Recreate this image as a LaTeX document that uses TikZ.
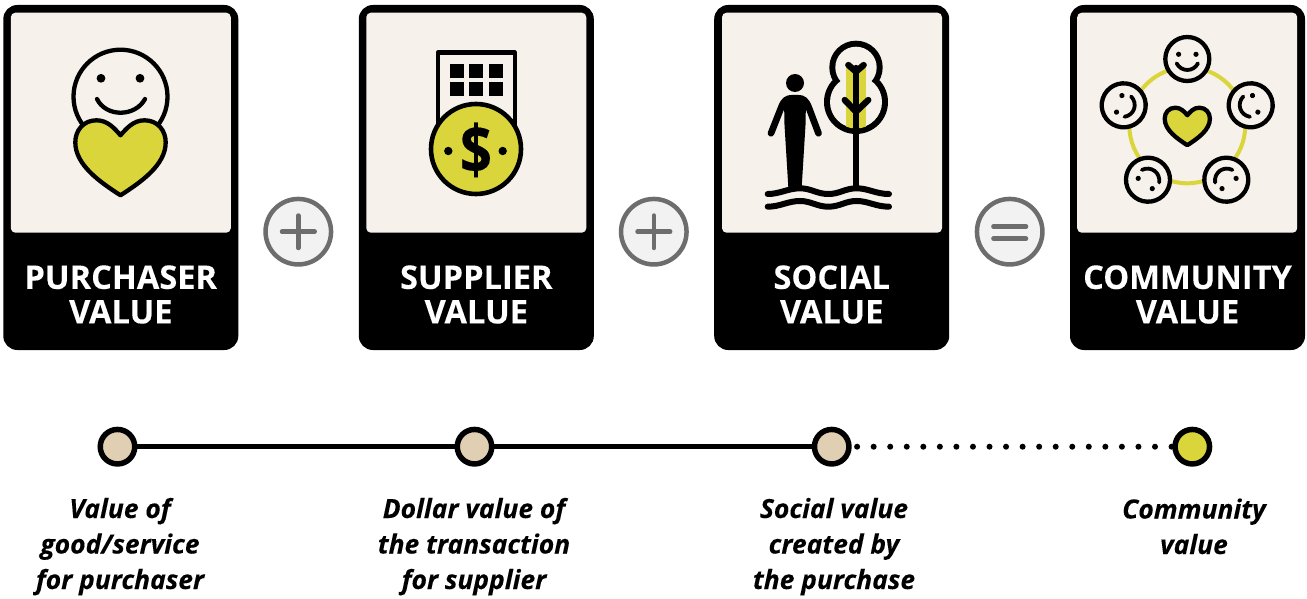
\documentclass[tikz,border=0pt]{standalone}
\usepackage{graphicx}
\usepackage{fontspec}
\newfontfamily\lblfont{Open Sans}[BoldFont={Open Sans Bold},BoldItalicFont={Open Sans Bold Italic},BoldFeatures={FakeBold=0.15},BoldItalicFeatures={FakeBold=0.1}]
\definecolor{panel}{HTML}{F6F1EB}
\definecolor{lime}{HTML}{DAD53A}
\definecolor{beige}{HTML}{E0CFB2}
\definecolor{opgrey}{HTML}{6D6D6D}
\definecolor{opfill}{HTML}{F2F2F2}
\tikzset{
  cardbox/.style={fill=black,rounded corners=14pt,minimum width=235pt,minimum height=345pt,inner sep=0pt,outer sep=0pt},
  panelbox/.style={fill=panel,rounded corners=4.5pt,minimum width=220pt,minimum height=220pt,inner sep=0pt,outer sep=0pt},
  cardlabel/.style={text=white,align=center,font=\lblfont\bfseries\fontsize{32.6}{34.5}\selectfont,inner sep=0pt},
  caption/.style={text=black,align=center,font=\lblfont\bfseries\itshape\fontsize{26.4}{35.5}\selectfont,inner sep=0pt},
  opcircle/.style={circle,draw=opgrey,fill=opfill,line width=4.5pt,minimum size=65.5pt,inner sep=0pt,outer sep=0pt},
  opbar/.style={draw=opgrey,line width=4.5pt,line cap=round},
  tldot/.style={circle,draw=black,line width=5.5pt,minimum size=34.5pt,inner sep=0pt,outer sep=0pt},
  tlline/.style={draw=black,line width=5.3pt},
  tldots/.style={draw=black,line width=6pt,line cap=round,dash pattern=on 0pt off 16.55pt,dash phase=8.4pt},
  ink/.style={draw=black,line width=4.3pt,line cap=round,line join=round},
}
\newcommand{\heartshape}[3]{%
  \begin{scope}[shift={(#1,#2)},scale=#3]
    \path[ink,fill=lime] (0,15) .. controls (-6,8) and (-13,0) .. (-24,0)
      .. controls (-37,0) and (-45.2,10) .. (-45.2,22)
      .. controls (-45.2,45) and (-20,62) .. (0,75)
      .. controls (20,62) and (45.2,45) .. (45.2,22)
      .. controls (45.2,10) and (37,0) .. (24,0)
      .. controls (13,0) and (6,8) .. (0,15) -- cycle;
  \end{scope}}
\newcommand{\smallface}[3]{%
  \begin{scope}[shift={(#1,#2)},rotate=#3]
    \path[ink,fill=panel] (0,0) circle[radius=22];
    \fill[black] (-8.7,-4.7) circle[radius=2.6] (8.7,-4.7) circle[radius=2.6];
    \draw[ink,line width=3.8pt] (-10.7,4.3) .. controls (-6,13.2) and (6,13.2) .. (10.7,4.3);
  \end{scope}}
\begin{document}
\begin{tikzpicture}[x=1pt,y=1pt,yscale=-1]
\useasboundingbox (0,0) rectangle (1307,599);
\fill[white] (0,0) rectangle (1307,599);

% cards
\node[cardbox] (card1) at (120.8,177.5) {};
\node[cardbox] (card2) at (476.3,177.5) {};
\node[cardbox] (card3) at (831.7,177.5) {};
\node[cardbox] (card4) at (1187.5,177.5) {};
\node[panelbox] (panel1) at (120.8,122.7) {};
\node[panelbox] (panel2) at (476.3,122.7) {};
\node[panelbox] (panel3) at (832,122.7) {};
\node[panelbox] (panel4) at (1187.2,122.7) {};
\node[cardlabel] (lab1) at (120.8,294.5) {PURCHASER\\VALUE};
\node[cardlabel] (lab2) at (476.3,294.5) {SUPPLIER\\VALUE};
\node[cardlabel] (lab3) at (831.7,294.5) {SOCIAL\\VALUE};
\node[cardlabel] (lab4) at (1187.5,294.5) {COMMUNITY\\VALUE};

% operators
\node[opcircle] (op1) at (298.3,231.7) {};
\node[opcircle] (op2) at (653.8,231.7) {};
\node[opcircle] (op3) at (1009.7,231.7) {};
\draw[opbar] (282,231.7) -- (314.7,231.7) (298.3,215.5) -- (298.3,248);
\draw[opbar] (637.5,231.7) -- (670.2,231.7) (653.8,215.5) -- (653.8,248);
\draw[opbar] (993.4,226.5) -- (1026,226.5) (993.4,238.7) -- (1026,238.7);

% icon 1: face and heart
\path[ink,fill=panel] (120.5,96.7) circle[radius=47];
\fill[black] (101,78.3) circle[radius=4.4] (140,78.3) circle[radius=4.4];
\draw[ink] (97,99) .. controls (106,117.3) and (135,117.3) .. (145,99);
\heartshape{120.5}{120.3}{1}

% icon 2: building and coin
\path[ink,fill=panel] (438,125) -- (438,52.5) -- (514.7,52.5) -- (514.7,125);
\foreach \wx in {450,469,489}{\foreach \wy in {64,82}{\fill[black] (\wx,\wy) rectangle ++(14,14);}}
\path[ink,line width=4.6pt,fill=lime] (476,149) circle[radius=45];
\fill[black] (448.3,151) circle[radius=4.2] (502.7,151) circle[radius=4.2];
\node[inner sep=0pt,font=\lblfont\bfseries\fontsize{56}{56}\selectfont] (dollar) at (476,150) {\scalebox{1}[1.2]{\$}};

% icon 3: person
\fill[black] (795,83) circle[radius=9];
\fill[black] (784,100) -- (806,100) -- (805.5,125) -- (801.7,187) -- (788.3,187) -- (784.5,125) -- cycle;
\draw[black,line width=6.7pt,line cap=round,line join=round]
  (771,133.3) -- (781,108) .. controls (784,100) and (787,98.3) .. (792,98.3) -- (798,98.3)
  .. controls (803,98.3) and (806,100) .. (809,108) -- (818.5,133.3);
% icon 3: tree
\fill[black] (856,67.4) circle[radius=26.7] (856,102) circle[radius=32];
\fill[panel] (856,67.4) circle[radius=20.7] (856,102) circle[radius=26];
\fill[lime] (846,68.3) rectangle (866,100);
\begin{scope}
  \clip (856,102) circle[radius=26.5];
  \fill[lime] (846,100) rectangle (866,135);
\end{scope}
\draw[black,line width=6.3pt,line cap=round] (856,68) -- (856,187);
\draw[black,line width=6.3pt,line cap=round,line join=round] (848.3,65) -- (856,71.7) -- (863.7,65);
\draw[black,line width=6.3pt,line cap=round,line join=round] (844.7,100) -- (856,111.7) -- (868.3,100);
% icon 3: water
\draw[black,line width=6pt,line cap=round]
  (767.7,194) .. controls (780,194) and (788,188.3) .. (800,188.3)
  .. controls (811,188.3) and (817,194) .. (828.3,194)
  .. controls (840,194) and (845,188.3) .. (856.7,188.3)
  .. controls (868,188.3) and (876,194) .. (889,194);
\draw[black,line width=6pt,line cap=round]
  (767.7,206.7) .. controls (780,206.7) and (788,201) .. (800,201)
  .. controls (811,201) and (817,206.7) .. (828.3,206.7)
  .. controls (840,206.7) and (845,201) .. (856.7,201)
  .. controls (868,201) and (876,206.7) .. (889,206.7);

% icon 4: community
\draw[lime,line width=4pt] (1187.3,125.3) circle[radius=58];
\smallface{1187.3}{59}{0}
\smallface{1250.7}{105.3}{72}
\smallface{1226.3}{179.7}{144}
\smallface{1148}{179.7}{216}
\smallface{1123.7}{105.3}{288}
\heartshape{1187.3}{107.7}{0.5}

% timeline
\node[tldot,fill=beige] (t1) at (117.5,446.7) {};
\node[tldot,fill=beige] (t2) at (474.5,446.7) {};
\node[tldot,fill=beige] (t3) at (831.7,446.7) {};
\node[tldot,fill=lime] (t4) at (1192.3,446.7) {};
\draw[tlline] (t1.east) -- (t2.west);
\draw[tlline] (t2.east) -- (t3.west);
\draw[tldots] (t3.east) -- (t4.west);

% captions
\node[caption,anchor=base] (cap1) at (120,589) {Value of\\good/service\\for purchaser};
\node[caption,anchor=base] (cap2) at (474,589) {Dollar value of\\the transaction\\for supplier};
\node[caption,anchor=base] (cap3) at (834,589) {Social value\\created by\\the purchase};
\node[caption,anchor=base] (cap4) at (1194,554) {Community\\value};
\end{tikzpicture}
\end{document}
